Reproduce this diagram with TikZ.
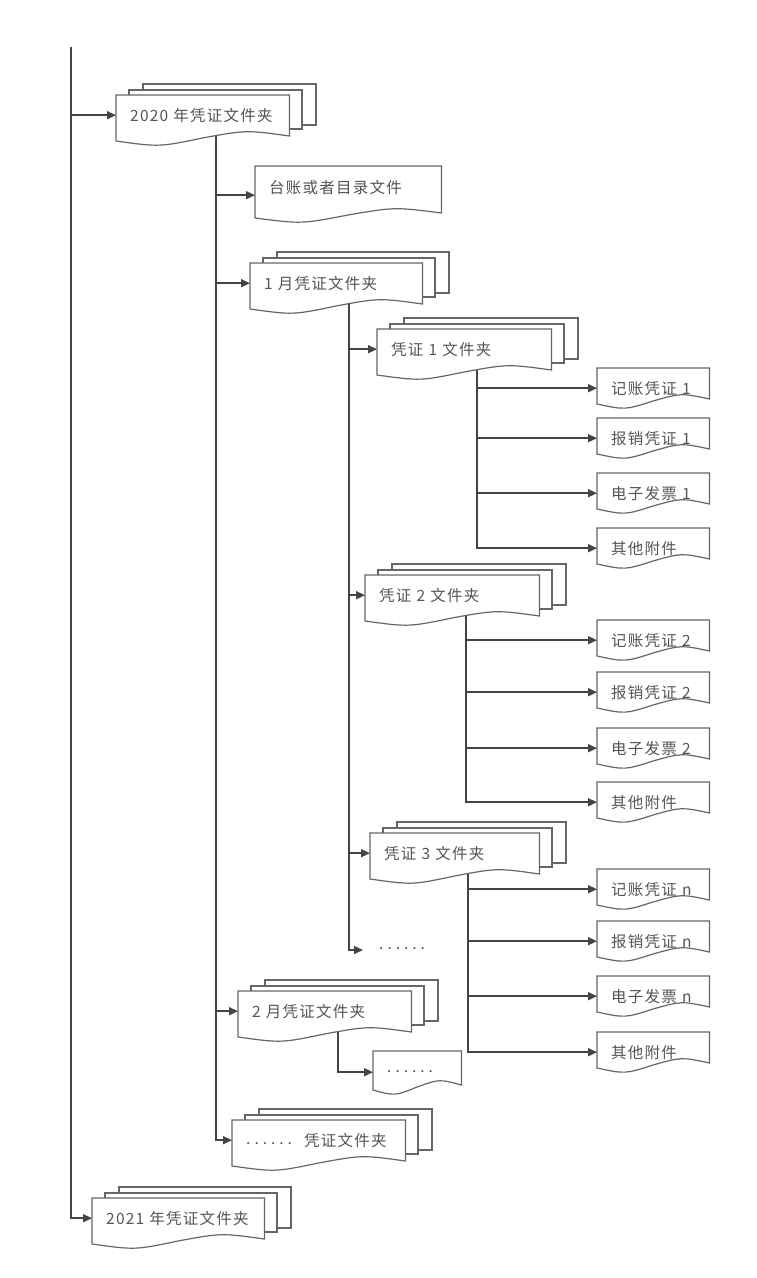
\documentclass[tikz,border=0pt]{standalone}
\usepackage{fontspec}
\newfontfamily\cjk[LetterSpace=8]{Noto Sans CJK SC}
\usetikzlibrary{arrows.meta,calc}
\pgfdeclarelayer{behind}
\pgfdeclarelayer{background}
\pgfsetlayers{behind,background,main}
\definecolor{linec}{HTML}{444444}
\definecolor{boxc}{HTML}{666666}
\definecolor{txtc}{HTML}{555555}
\tikzset{
  conn/.style={draw=linec, line width=1.5pt},
  arr/.style={conn, -{Triangle[length=9pt,width=8pt]}},
  box/.style={draw=boxc, line width=1.2pt, fill=white},
  lbl/.style={rectangle, draw=none, inner xsep=14pt, inner ysep=0pt, minimum height=40pt,
    anchor=north west, align=left, text=txtc, font=\cjk\fontsize{15.5}{17}\selectfont},
}
\newcommand\sixdots{\raisebox{2pt}{.\kern4pt.\kern4pt.\kern4pt.\kern4pt.\kern4pt.}}
% doc shape: name, width, right height
\newcommand\docshape[3]{\draw[box] (#1.north west) -- (#1.north east) -- ([shift={(0,#3)}]#1.north east)
  .. controls ([shift={(-0.25*#2,#3-6)}]#1.north east) .. ([shift={(0.5*#2,#3+2)}]#1.north west)
  .. controls ([shift={(0.25*#2,#3+11)}]#1.north west) .. ([shift={(0,#3+5)}]#1.north west) -- cycle;}
% folder: name, L, T, W, text
\newcommand\folder[5]{%
  \node[lbl, minimum width=#4pt, text width=\the\dimexpr#4pt-28pt\relax] (#1) at (#2,#3) {#5};
  \begin{pgfonlayer}{background}
    \draw[box] ([shift={(27,-11)}]#1.north west) rectangle ++(#4,41);
    \draw[box] ([shift={(13,-5)}]#1.north west) rectangle ++(#4,39);
    \docshape{#1}{#4}{41}
  \end{pgfonlayer}}
% single document: name, L, T, W, H, R, text
\newcommand\single[7]{%
  \node[lbl, minimum width=#4pt, minimum height=#5pt, text width=\the\dimexpr#4pt-28pt\relax] (#1) at (#2,#3) {#7};
  \begin{pgfonlayer}{background}
    \docshape{#1}{#4}{#6}
  \end{pgfonlayer}}
% leaf: name, arrow y, text
\newcommand\leaf[3]{\single{#1}{597}{\the\numexpr#2-20\relax}{112}{40}{31}{#3}}
\begin{document}
\begin{tikzpicture}[x=1pt,y=-1pt]
\begin{pgfonlayer}{behind}
  \fill[white] (0,0) rectangle (756,1278);
\end{pgfonlayer}
\useasboundingbox (0,0) rectangle (756,1278);

\coordinate (top) at (71,47);
\coordinate (tx1) at (216,0);
\coordinate (tx2) at (349,0);
\coordinate (tx3) at (477,0);
\coordinate (tx4) at (466,0);
\coordinate (tx5) at (468,0);
\coordinate (tx6) at (338,0);

\folder{f2020}{116}{95}{173}{2020 年凭证文件夹}
\single{tz}{255}{166}{186}{42}{47}{台账或者目录文件}
\folder{m1}{250}{263}{172}{1 月凭证文件夹}
\folder{v1}{377}{329}{174}{凭证 1 文件夹}
\leaf{a1}{388}{记账凭证 1}
\leaf{a2}{438}{报销凭证 1}
\leaf{a3}{493}{电子发票 1}
\leaf{a4}{548}{其他附件}
\folder{v2}{365}{575}{174}{凭证 2 文件夹}
\leaf{b1}{640}{记账凭证 2}
\leaf{b2}{692}{报销凭证 2}
\leaf{b3}{748}{电子发票 2}
\leaf{b4}{802}{其他附件}
\folder{v3}{370}{833}{169}{凭证 3 文件夹}
\leaf{c1}{889}{记账凭证 n}
\leaf{c2}{941}{报销凭证 n}
\leaf{c3}{996}{电子发票 n}
\leaf{c4}{1052}{其他附件}
\node[lbl, anchor=west, inner xsep=16pt, minimum height=10pt] (d1) at (363,950) {\sixdots};
\folder{m2}{238}{991}{173}{2 月凭证文件夹}
\single{dd}{373}{1051}{88}{42}{34}{\sixdots}
\folder{mx}{232}{1120}{173}{\sixdots\hspace{12pt}凭证文件夹}
\folder{f2021}{92}{1198}{172}{2021 年凭证文件夹}

\begin{pgfonlayer}{behind}
  \draw[arr] (top) |- (f2020.west);
  \draw[arr] (top) |- (f2021.west);
  \draw[arr] (f2020.center -| tx1) |- ([shift={(0,8)}]tz.west);
  \draw[arr] (f2020.center -| tx1) |- (m1.west);
  \draw[arr] (f2020.center -| tx1) |- (m2.west);
  \draw[arr] (f2020.center -| tx1) |- (mx.west);
  \draw[arr] (m1.center -| tx2) |- (v1.west);
  \draw[arr] (m1.center -| tx2) |- (v2.west);
  \draw[arr] (m1.center -| tx2) |- (v3.west);
  \draw[arr] (m1.center -| tx2) |- (d1.west);
  \foreach \n in {a1,a2,a3,a4} \draw[arr] (v1.center -| tx3) |- (\n.west);
  \foreach \n in {b1,b2,b3,b4} \draw[arr] (v2.center -| tx4) |- (\n.west);
  \foreach \n in {c1,c2,c3,c4} \draw[arr] (v3.center -| tx5) |- (\n.west);
  \draw[arr] (m2.center -| tx6) |- (dd.west);
\end{pgfonlayer}
\end{tikzpicture}
\end{document}
